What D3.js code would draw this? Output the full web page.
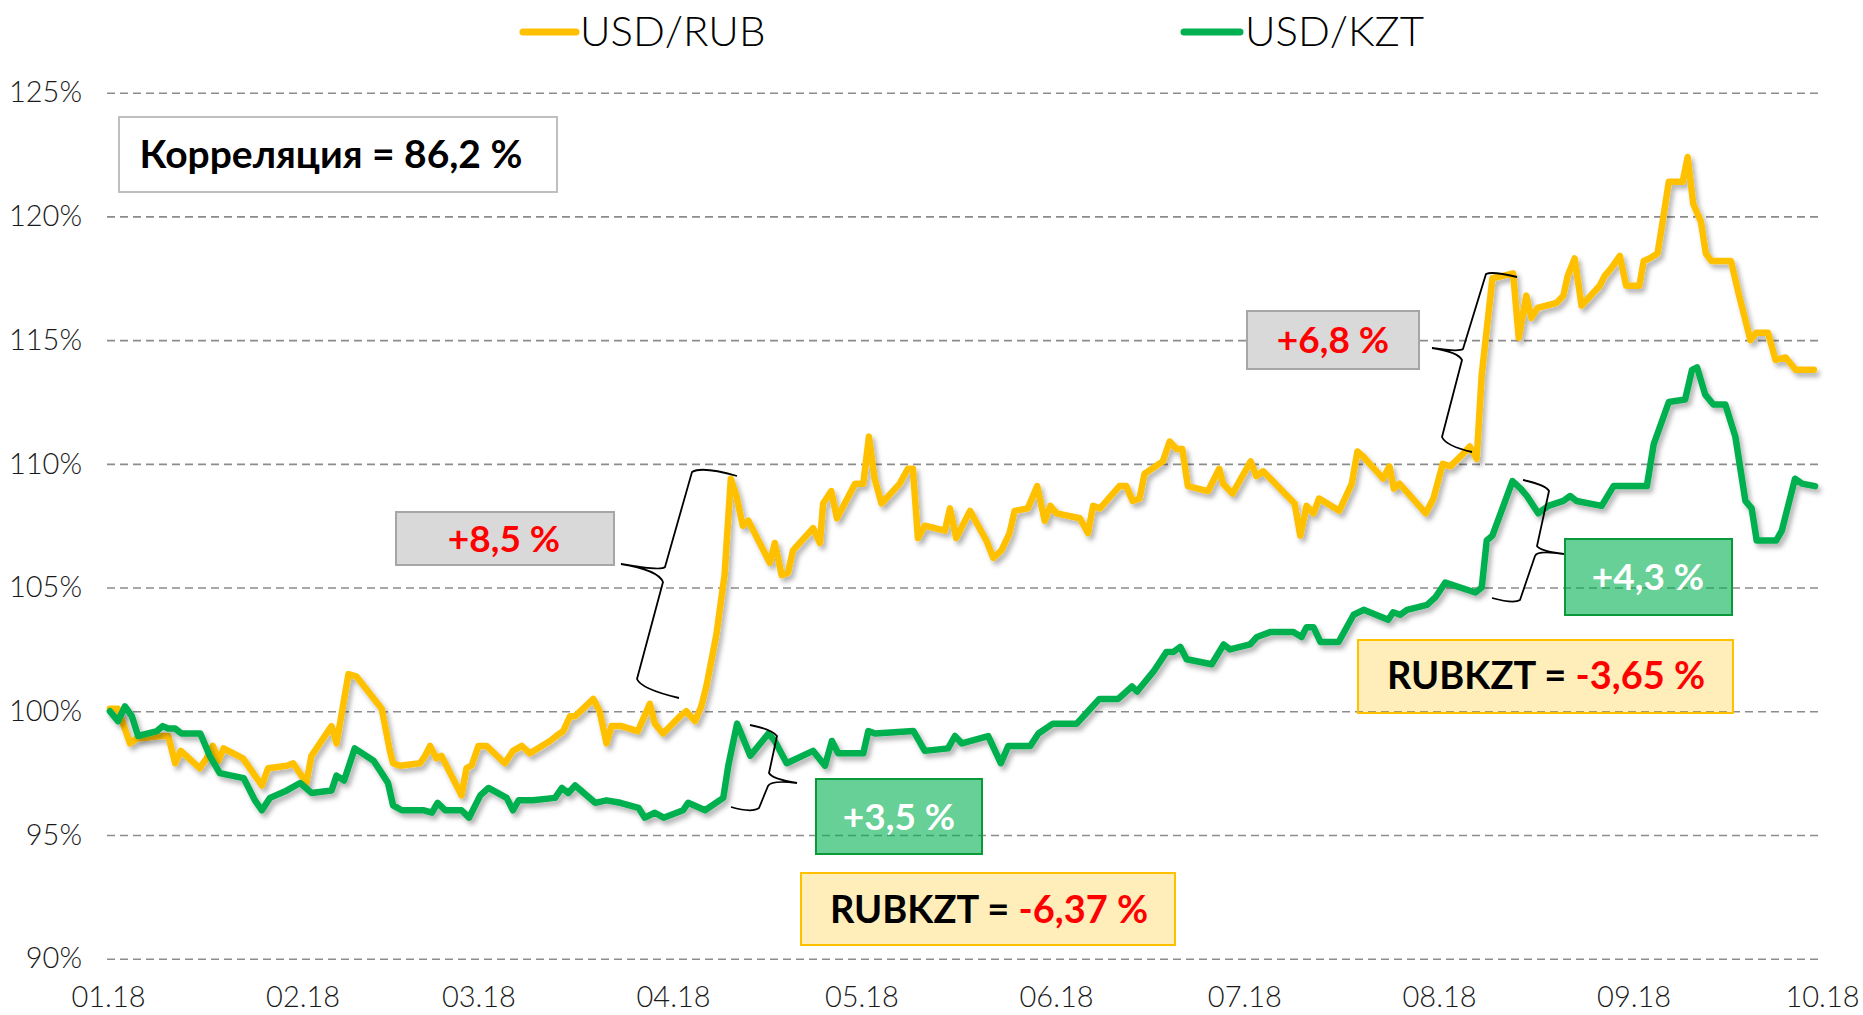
<!DOCTYPE html>
<html>
<head>
<meta charset="utf-8">
<script src="https://cdn.jsdelivr.net/npm/d3@7"></script>
<style>
  body { margin: 0; background: #fff; }
  svg { display: block; font-family: Lato, "Open Sans", sans-serif; }
</style>
</head>
<body>
<svg id="chart" width="1863" height="1015"></svg>
<script>
// days since 01.01.2018 and index values (%, 01.01.2018 = 100)
const rubDays = [0.3,1.6,3.5,4.6,8.5,9.6,10.7,11.6,14.6,15.7,
  16.7,17.6,18.4,21.5,24.5,25.5,28.5,29.5,31.6,32.4,
  35.6,36.4,38.3,39.6,43.6,44.9,45.4,46.5,49.7,50.5,
  51.3,52.3,53.1,56.3,57.1,57.9,59.0,60.3,63.2,64.5,
  65.9,67.2,70.4,71.4,72.5,73.6,74.4,77.3,78.3,79.4,
  80.2,81.8,84.4,86.3,87.1,88.4,91.1,92.1,93.5,94.5,
  95.3,96.9,98.2,99.2,100.1,101.1,102.0,105.4,106.2,107.3,
  108.3,109.1,112.3,113.4,113.9,115.2,116.1,119.0,120.3,121.2,
  122.1,123.2,126.1,127.4,128.2,129.0,130.1,133.3,134.1,135.1,
  137.3,139.9,141.0,142.3,143.6,144.4,146.5,148.0,149.2,150.1,
  151.1,154.8,156.1,156.9,158.0,161.1,162.2,163.2,164.3,165.1,
  168.0,169.1,170.2,171.1,172.0,175.2,177.0,177.6,179.1,182.0,
  182.9,184.0,189.0,189.9,190.9,192.0,192.9,196.1,198.1,199.0,
  199.9,203.1,204.1,204.8,205.7,209.9,211.1,212.6,213.8,215.8,
  216.9,218.0,218.8,220.5,222.2,223.8,224.7,225.9,226.7,227.7,
  230.7,231.8,232.5,233.6,234.7,237.6,238.4,239.4,240.8,241.8,
  243.9,244.6,245.5,246.8,247.5,248.6,250.8,251.6,252.5,253.7,
  254.5,255.4,258.5,259.8,261.6,262.5,264.4,265.6,267.2,268.8,
  271.7];
const rubValues = [100.1,100.1,98.7,98.9,99.0,99.0,97.9,98.4,97.7,98.1,
  98.6,98.0,98.5,98.1,97.0,97.7,97.8,97.9,97.1,98.2,
  99.4,98.7,101.5,101.4,100.1,98.4,97.9,97.8,97.9,98.2,
  98.6,98.1,98.2,96.6,97.7,97.8,98.6,98.6,97.9,98.4,
  98.6,98.3,98.8,99.0,99.2,99.8,99.8,100.5,100.0,98.7,
  99.4,99.4,99.2,100.3,99.5,99.1,99.8,100.0,99.6,100.2,
  101.0,103.1,105.5,109.4,108.7,107.5,107.7,106.0,106.8,105.5,
  105.6,106.5,107.4,106.8,108.4,108.9,107.8,109.2,109.2,111.1,
  109.4,108.4,109.2,109.8,109.8,107.0,107.5,107.3,108.2,107.0,
  108.1,106.9,106.2,106.5,107.2,108.1,108.2,109.1,107.7,108.3,
  108.0,107.8,107.2,108.3,108.2,109.1,109.1,108.5,108.6,109.6,
  110.1,110.9,110.6,110.6,109.1,108.9,109.8,109.2,108.8,110.1,
  109.5,109.7,108.4,107.1,108.3,108.0,108.6,108.1,109.2,110.5,
  110.3,109.4,109.9,109.0,109.2,108.0,108.6,110.0,109.9,110.4,
  110.7,110.2,113.6,117.5,117.6,117.7,115.1,116.8,115.9,116.3,
  116.5,116.8,117.6,118.3,116.4,117.2,117.6,117.9,118.4,117.2,
  117.2,118.2,118.3,118.5,119.6,121.4,121.4,122.4,120.5,119.8,
  118.5,118.2,118.2,116.8,115.0,115.3,115.3,114.2,114.3,113.8,
  113.8];

const kztDays = [0.3,1.6,2.7,3.8,4.8,7.8,8.7,9.6,10.7,11.7,
  14.7,16.2,17.8,21.6,23.4,24.5,25.8,28.5,30.6,32.4,
  35.6,36.4,37.6,39.3,42.3,43.6,44.6,45.4,46.8,50.2,
  51.6,52.5,53.7,56.3,57.5,59.3,60.6,63.5,64.5,65.4,
  67.7,71.2,72.3,73.3,74.4,77.6,79.4,81.6,84.5,85.5,
  87.1,88.5,91.6,92.4,95.1,98.0,98.8,100.2,102.3,105.2,
  106.2,108.1,112.3,114.2,115.3,116.3,120.3,121.1,122.2,128.3,
  130.1,133.8,134.9,136.0,140.2,142.2,143.4,146.9,148.2,150.5,
  154.3,156.1,157.9,160.9,163.1,163.9,166.5,168.6,169.7,170.8,
  171.8,175.8,177.7,178.7,181.9,183.0,185.1,188.8,190.1,190.9,
  192.0,193.1,196.0,198.4,200.0,203.9,204.7,205.8,206.9,210.1,
  211.4,213.0,217.8,218.8,219.6,220.5,223.7,225.0,226.0,227.8,
  229.4,231.8,232.9,233.9,237.9,239.8,245.1,246.2,248.6,251.2,
  252.3,253.1,254.4,255.7,257.6,259.2,260.8,261.8,262.6,265.7,
  266.6,268.7,269.8,271.9];
const kztValues = [100.0,99.6,100.2,99.8,99.0,99.2,99.4,99.3,99.3,99.1,
  99.1,98.2,97.5,97.3,96.4,96.0,96.5,96.8,97.1,96.7,
  96.8,97.4,97.2,98.5,98.0,97.5,97.1,96.2,96.0,96.0,
  95.9,96.3,96.0,96.0,95.7,96.6,96.9,96.5,96.0,96.4,
  96.4,96.5,96.9,96.7,97.0,96.3,96.4,96.3,96.1,95.7,
  95.9,95.7,96.0,96.3,96.0,96.5,97.8,99.5,98.2,99.1,
  98.8,97.9,98.4,97.8,98.8,98.3,98.3,99.2,99.1,99.2,
  98.4,98.5,99.0,98.7,99.0,97.9,98.6,98.6,99.1,99.5,
  99.5,100.0,100.5,100.5,101.0,100.8,101.6,102.4,102.4,102.6,
  102.1,101.9,102.7,102.5,102.7,103.0,103.2,103.2,103.0,103.4,
  103.4,102.8,102.8,103.9,104.1,103.7,104.0,103.9,104.1,104.3,
  104.6,105.2,104.8,105.0,106.9,107.1,109.3,109.0,108.7,108.0,
  108.3,108.5,108.7,108.5,108.3,109.1,109.1,110.8,112.5,112.6,
  113.8,113.9,112.8,112.4,112.4,111.1,108.5,108.2,106.9,106.9,
  107.3,109.4,109.2,109.1];

const monthStarts = [0, 31, 59, 90, 120, 151, 181, 212, 243, 273];
const monthLabels = ["01.18","02.18","03.18","04.18","05.18","06.18","07.18","08.18","09.18","10.18"];
const yTicks = [90, 95, 100, 105, 110, 115, 120, 125];
const seriesNames = ["USD/RUB", "USD/KZT"];

const yellow = "#ffc000", green = "#00b050";

const svg = d3.select("#chart");
const plotLeft = 107, plotRight = 1823, plotTop = 92.7, plotBottom = 958.7;

const x = d3.scaleLinear().domain([0, 273]).range([108, 1822]);
const y = d3.scaleLinear().domain([90, 125]).range([plotBottom, plotTop]);

// drop shadow under the lines
const filter = svg.append("defs").append("filter")
  .attr("id", "shadow")
  .attr("x", "-5%").attr("y", "-10%").attr("width", "110%").attr("height", "130%");
filter.append("feDropShadow")
  .attr("dx", 3).attr("dy", 4).attr("stdDeviation", 2.5)
  .attr("flood-color", "#000").attr("flood-opacity", 0.3);

// grid + y labels
const yAxis = svg.append("g")
  .attr("transform", `translate(${plotLeft},0)`)
  .call(d3.axisLeft(y).tickValues(yTicks).tickSize(-(plotRight - plotLeft)).tickPadding(25).tickFormat(d => d + "%"));
yAxis.select(".domain").remove();
yAxis.selectAll(".tick line")
  .attr("stroke", "#8c8c8c")
  .attr("stroke-width", 1.6)
  .attr("stroke-dasharray", "8,5");
yAxis.selectAll(".tick text")
  .attr("font-family", "Lato")
  .attr("font-weight", 300)
  .attr("font-size", 29)
  .attr("fill", "#1a1a1a");

// x labels
const xAxis = svg.append("g")
  .attr("transform", `translate(0,${plotBottom})`)
  .call(d3.axisBottom(x).tickValues(monthStarts).tickSize(0).tickFormat((d, i) => monthLabels[i]));
xAxis.select(".domain").remove();
xAxis.selectAll(".tick text")
  .attr("y", 48)
  .attr("dy", null)
  .attr("font-family", "Lato")
  .attr("font-weight", 300)
  .attr("font-size", 29)
  .attr("fill", "#1a1a1a");

// lines
const line = d3.line().x(d => x(d[0])).y(d => y(d[1]));

svg.append("path")
  .datum(d3.zip(rubDays, rubValues))
  .attr("d", line)
  .attr("fill", "none")
  .attr("stroke", yellow)
  .attr("stroke-width", 6.5)
  .attr("stroke-linejoin", "round")
  .attr("stroke-linecap", "round")
  .attr("filter", "url(#shadow)");

svg.append("path")
  .datum(d3.zip(kztDays, kztValues))
  .attr("d", line)
  .attr("fill", "none")
  .attr("stroke", green)
  .attr("stroke-width", 6.5)
  .attr("stroke-linejoin", "round")
  .attr("stroke-linecap", "round")
  .attr("filter", "url(#shadow)");

// legend
const legend = svg.append("g");
[[523, 576, 580, yellow], [1184, 1240, 1245, green]].forEach((p, i) => {
  legend.append("line")
    .attr("x1", p[0]).attr("x2", p[1]).attr("y1", 32).attr("y2", 32)
    .attr("stroke", p[3]).attr("stroke-width", 7).attr("stroke-linecap", "round");
  legend.append("text")
    .attr("x", p[2]).attr("y", 46)
    .attr("font-family", "Lato").attr("font-weight", 300).attr("font-size", 42)
    .attr("fill", "#000")
    .text(seriesNames[i]);
});

// annotation boxes
function box(x0, y0, x1, y1, fill, stroke, opacity) {
  svg.append("rect")
    .attr("x", x0).attr("y", y0)
    .attr("width", x1 - x0).attr("height", y1 - y0)
    .attr("fill", fill).attr("fill-opacity", opacity)
    .attr("stroke", stroke).attr("stroke-width", 2);
}
function label(cx, base, parts, size) {
  const t = svg.append("text")
    .attr("x", cx).attr("y", base)
    .attr("text-anchor", "middle")
    .attr("font-family", "Lato").attr("font-weight", 700)
    .attr("font-size", size);
  parts.forEach(p => t.append("tspan").attr("fill", p[1]).text(p[0]));
}

box(119, 117, 557, 192, "#fff", "#bfbfbf", 1);
label(331, 168, [["Корреляция = 86,2 %", "#000"]], 39);

box(396, 512, 614, 565, "#d9d9d9", "#a6a6a6", 1);
label(504, 552, [["+8,5 %", "#ff0000"]], 37);

box(1247, 311, 1419, 369, "#d9d9d9", "#a6a6a6", 1);
label(1333, 353, [["+6,8 %", "#ff0000"]], 37);

box(816, 779, 982, 854, green, "#0a9a3a", 0.6);
label(899, 830, [["+3,5 %", "#fff"]], 37);

box(1565, 539, 1732, 615, green, "#0a9a3a", 0.6);
label(1648, 590, [["+4,3 %", "#fff"]], 37);

box(801, 873, 1175, 945, yellow, yellow, 0.27);
label(989, 923, [["RUBKZT = ", "#000"], ["-6,37 %", "#ff0000"]], 38);

box(1358, 640, 1733, 713, yellow, yellow, 0.27);
label(1546, 689, [["RUBKZT = ", "#000"], ["-3,65 %", "#ff0000"]], 38);

// braces
const braces = [
  "M737,476 Q702,466 692,472 L665,567 Q661,571 621,564 Q658,570 663,582 L637,679 Q641,689 679,698",
  "M750,725 Q771,729 777,736 L769,773 Q772,779 797,783 Q771,780 768,786 L759,808 Q752,813 731,807",
  "M1517,277 Q1492,271 1486,274 L1463,349 Q1459,352 1432,348 Q1458,352 1462,360 L1442,437 Q1446,446 1472,452",
  "M1523,480 Q1546,485 1549,491 L1537,546 Q1540,551 1564,554 Q1537,550 1535,556 L1520,600 Q1514,604 1492,598"
];
svg.append("g").selectAll("path").data(braces).join("path")
  .attr("d", d => d)
  .attr("fill", "none")
  .attr("stroke", "#000")
  .attr("stroke-width", 1.8);
</script>
</body>
</html>
